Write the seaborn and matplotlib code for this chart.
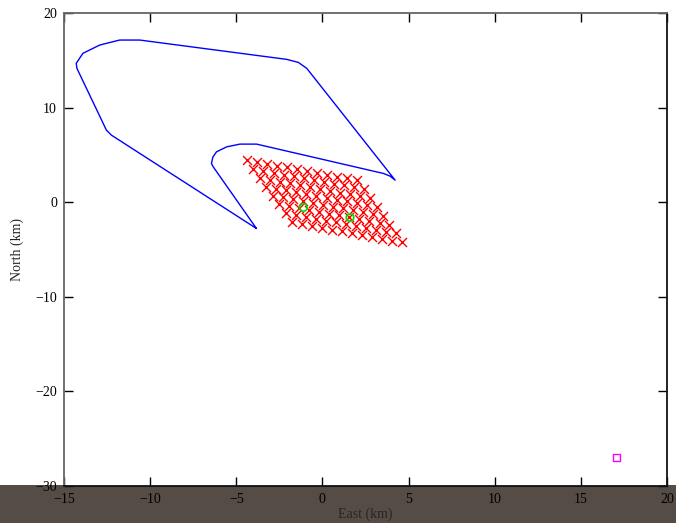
import numpy as np
import pandas as pd
import matplotlib
matplotlib.use("Agg")
import matplotlib.pyplot as plt
from matplotlib.patches import Rectangle
import seaborn as sns

# ---- data ----
# blue outline (East, North in km), in drawing order
outline_east = [-3.83, -6.34, -6.44, -6.36, -6.15, -5.56, -4.79, -3.82, 3.54, 3.93, 4.22,
                -0.91, -1.40, -2.08, -10.60, -11.77, -12.93, -13.90, -14.29, -14.25,
                -12.54, -12.25, -3.83]
outline_north = [-2.78, 3.74, 4.10, 4.76, 5.32, 5.85, 6.14, 6.14, 3.04, 2.75, 2.33,
                 14.15, 14.78, 15.10, 17.14, 17.14, 16.61, 15.74, 14.68, 14.15,
                 7.62, 7.09, -2.78]

# fault-patch grid: origin corner, unit vectors, offsets along strike / down dip (km)
grid_origin = (-4.38, 4.44)
strike_dir = (0.950, -0.315)
dip_dir = (0.371, -0.929)
strike_offsets_km = [0.0, 0.61, 1.23, 1.84, 2.45, 3.06, 3.68, 4.29, 4.90, 5.51, 6.13, 6.74]
dip_offsets_km = [0.0, 1.01, 2.02, 3.03, 4.03, 5.04, 6.05, 7.06]

# green circles
circle_east = [-1.11, 1.60]
circle_north = [-0.56, -1.62]

# magenta square
square_east = [17.05]
square_north = [-27.0]

xticks = [-15, -10, -5, 0, 5, 10, 15, 20]
yticks = [-30, -20, -10, 0, 10, 20]

# ---- build tables ----
outline_df = pd.DataFrame({"East": outline_east, "North": outline_north})
rows = []
for d in dip_offsets_km:
    for s in strike_offsets_km:
        rows.append((grid_origin[0] + s * strike_dir[0] + d * dip_dir[0],
                     grid_origin[1] + s * strike_dir[1] + d * dip_dir[1]))
grid_df = pd.DataFrame(rows, columns=["East", "North"])

# ---- style ----
sns.set_theme(style="white")
plt.rcParams["font.family"] = ["Liberation Serif", "DejaVu Serif"]
plt.rcParams["axes.unicode_minus"] = True

fig = plt.figure(figsize=(6.76, 5.23), dpi=100)
ax = fig.add_axes([64 / 676, (523 - 486) / 523, (667 - 64) / 676, (486 - 13) / 523])
ax.set_facecolor("white")

sns.lineplot(data=outline_df, x="East", y="North", sort=False, estimator=None,
             color="#0000ff", linewidth=1.0, ax=ax)
sns.scatterplot(data=grid_df, x="East", y="North", marker="x", color="#ff0000",
                s=42, linewidth=1.0, ax=ax, zorder=3)
sns.scatterplot(x=circle_east, y=circle_north, marker="o", s=30,
                facecolors="none", edgecolors="#00e000", linewidth=1.2, ax=ax, zorder=4)
sns.scatterplot(x=square_east, y=square_north, marker="s", s=28,
                facecolors="none", edgecolors="#ff00ff", linewidth=1.0, ax=ax, zorder=4)

ax.set_xlim(-15, 20)
ax.set_ylim(-30, 20)
ax.set_xticks(xticks)
ax.set_yticks(yticks)
ax.set_xticklabels([str(v).replace("-", "\u2212") for v in xticks])
ax.set_yticklabels([str(v).replace("-", "\u2212") for v in yticks])
ax.tick_params(direction="in", length=6.5, width=1.0, top=True, right=True,
               bottom=True, left=True, labelsize=10, colors="black", pad=5)

for side in ["left", "top"]:
    ax.spines[side].set_color("#666666")
    ax.spines[side].set_linewidth(1.3)
for side in ["right", "bottom"]:
    ax.spines[side].set_color("#111111")
    ax.spines[side].set_linewidth(1.3)

ax.set_xlabel("East (km)", fontsize=10)
ax.set_ylabel("North (km)", fontsize=10)
ax.xaxis.set_label_coords(0.5, -0.045)
ax.yaxis.set_label_coords(-0.066, 0.5)

# dark band across the bottom of the picture
band = Rectangle((0, 0), 1, (523 - 484.5) / 523, transform=fig.transFigure,
                 facecolor="#544c45", edgecolor="none", zorder=-1)
fig.add_artist(band)

fig.savefig("out.png", dpi=100)
